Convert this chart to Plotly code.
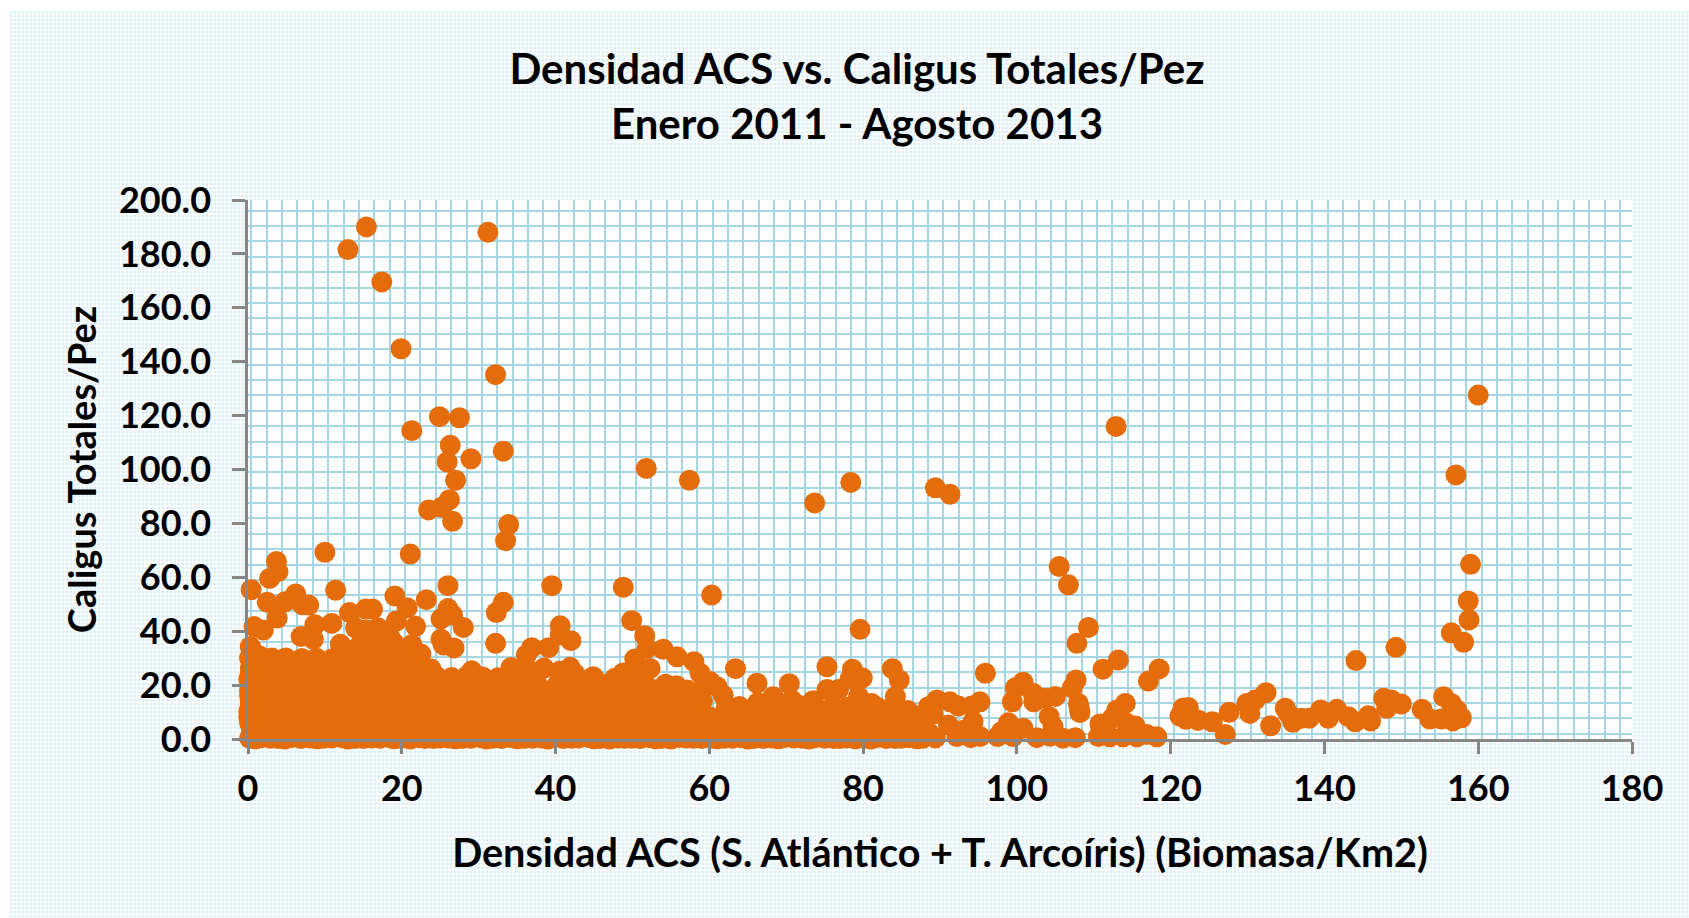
import plotly.graph_objects as go

TITLE = "<b>Densidad ACS vs. Caligus Totales/Pez<br>Enero 2011 - Agosto 2013</b>"
X_TITLE = "<b>Densidad ACS (S. Atlántico + T. Arcoíris) (Biomasa/Km2)</b>"
Y_TITLE = "<b>Caligus Totales/Pez</b>"
X_TICKS = [0, 20, 40, 60, 80, 100, 120, 140, 160, 180]
Y_TICKS = [0, 20, 40, 60, 80, 100, 120, 140, 160, 180, 200]
Y_TICK_TEXT = ["0.0", "20.0", "40.0", "60.0", "80.0", "100.0", "120.0", "140.0", "160.0", "180.0", "200.0"]

# Points that can be made out individually
high_x = [13.0, 15.4, 17.4, 19.9, 31.2, 32.2, 21.3, 24.9, 27.5, 33.2, 26.3, 25.9, 29.0, 27.0, 26.2, 23.5, 25.2, 33.9, 26.6, 33.5,
          160.0, 157.1, 159.0, 158.7, 112.9, 89.4, 91.3, 78.4, 73.7, 57.4, 51.8, 105.5, 106.7]
high_y = [181.6, 190.0, 169.6, 144.8, 188.0, 135.2, 114.4, 119.6, 119.2, 106.8, 109.0, 102.8, 104.0, 96.0, 88.8, 85.0, 86.0, 79.6, 80.8, 73.6,
          127.6, 98.0, 64.8, 51.2, 116.0, 93.2, 90.8, 95.2, 87.6, 96.0, 100.4, 64.0, 57.2]

left_x = [10.0, 21.1, 3.7, 3.9, 2.8, 0.4, 11.4, 26.0, 39.5, 19.1, 23.2, 20.7, 6.2, 4.8, 7.9, 7.1, 2.5, 13.2, 15.3, 16.2, 33.2, 32.3,
          3.8, 2.0, 0.8, 10.9, 8.7, 19.3, 21.8, 26.0, 26.6, 25.1, 28.0, 25.1, 25.4, 26.8, 32.2, 6.9, 21.3, 14.0, 16.9, 15.4, 18.4,
          12.0, 14.6, 36.9, 36.2, 39.1, 34.2, 23.8, 29.1, 8.5]
left_y = [69.3, 68.6, 65.9, 62.1, 59.6, 55.4, 55.2, 56.9, 56.9, 53.1, 51.7, 48.7, 53.8, 50.9, 49.7, 49.8, 50.7, 46.9, 48.2, 48.2, 50.7, 46.9,
          44.9, 40.4, 41.7, 42.9, 42.4, 43.8, 41.8, 48.4, 46.0, 44.6, 41.4, 37.0, 34.9, 33.8, 35.5, 38.0, 35.0, 41.2, 41.3, 40.4, 38.0,
          35.2, 34.9, 33.9, 31.2, 33.9, 26.5, 26.0, 25.3, 37.0]

mid_x = [48.8, 60.3, 40.6, 40.6, 42.0, 49.9, 51.6, 51.9, 54.0, 55.8, 58.0, 50.3, 52.3, 50.3, 48.8, 47.7, 41.9, 44.9, 43.4,
         63.4, 66.2, 70.4, 68.3, 66.3, 64.2, 75.3, 78.6, 79.9, 78.3, 79.6, 75.3, 76.8, 73.5, 70.7, 79.4, 81.1, 60.1, 61.8, 61.0, 58.8]
mid_y = [56.3, 53.4, 42.0, 38.6, 36.5, 43.9, 38.3, 33.6, 33.3, 30.5, 28.7, 29.7, 26.2, 24.4, 24.5, 22.5, 26.6, 23.1, 20.7,
         26.1, 20.7, 20.5, 15.7, 13.5, 10.8, 26.8, 25.9, 22.7, 22.3, 40.7, 18.4, 18.4, 14.2, 14.5, 15.7, 13.2, 21.3, 16.3, 19.4, 24.4]

right_x = [109.3, 107.8, 113.2, 111.2, 118.5, 117.1, 95.9, 83.8, 84.7, 84.2, 100.8, 99.8, 99.4, 102.1, 102.2, 103.6, 105.0, 107.7, 107.2,
           108.0, 108.2, 108.1, 104.2, 104.7, 98.9, 100.8, 98.0, 97.5, 102.6, 107.6, 106.0, 104.3, 99.5, 95.2, 94.1, 94.3, 91.1, 92.2,
           95.2, 94.0, 93.2, 89.6, 91.3, 92.4, 88.5, 114.1, 113.0, 110.8, 112.4, 115.4, 114.3, 110.6, 112.1, 113.8, 115.6, 118.2, 116.9,
           121.6, 122.3, 122.0, 123.6]
right_y = [41.4, 35.5, 29.3, 25.9, 26.0, 21.5, 24.4, 26.1, 21.9, 15.7, 21.1, 19.0, 13.8, 17.0, 13.8, 15.1, 15.8, 21.9, 19.0,
           13.2, 9.8, 11.6, 8.3, 4.6, 6.0, 4.0, 2.7, 0.9, 0.5, 0.5, 0.3, 1.0, 0.9, 13.8, 12.2, 6.4, 5.2, 0.9,
           0.9, 0.5, 3.3, 14.5, 13.8, 12.2, 12.0, 13.2, 10.8, 5.6, 7.7, 4.8, 5.8, 0.9, 0.8, 0.8, 0.8, 0.8, 1.7,
           11.4, 11.7, 7.3, 7.0]

far_x = [144.1, 149.3, 156.5, 158.1, 158.8, 132.4, 131.0, 129.9, 130.3, 127.6, 127.1, 133.0, 125.4, 123.5, 122.2, 121.2, 134.9, 135.3, 135.9,
         138.0, 137.0, 139.5, 141.6, 140.5, 143.1, 144.0, 145.7, 146.0, 147.7, 148.7, 148.1, 150.0, 152.7, 153.7, 155.5, 156.5, 157.2, 155.2, 156.7, 157.8]
far_y = [29.1, 34.0, 39.4, 35.9, 44.2, 17.2, 14.5, 13.2, 9.5, 9.9, 1.7, 4.9, 6.4, 7.0, 11.4, 8.5, 11.4, 9.5, 6.2,
         7.7, 7.7, 10.8, 11.0, 7.7, 8.3, 6.4, 8.6, 6.7, 15.1, 14.5, 11.4, 13.0, 11.0, 7.4, 15.7, 13.2, 10.8, 7.4, 6.7, 7.9]

# The solid mass near the axis: individual points cannot be told apart there,
# so these are hand estimates that reproduce its outline and fill
mass_a_x = [0.2, 1.8, 3.9, 5.7, 8.1, 9.8, 12.2, 13.9, 16.1, 18.3, 19.9, 22.2, 24.1,
            0.4, 2.3, 3.8, 6.2, 7.7, 10.3, 11.9, 14.2, 15.8, 18.1, 20.4, 21.8, 24.3,
            0.1, 1.6, 4.2, 5.9, 8.3, 9.6, 12.4, 13.7, 16.3, 17.8, 20.2, 22.1, 23.9,
            0.3, 2.1, 3.7, 6.1, 7.9, 10.1, 12.1, 14.1, 16.0, 18.2, 19.8, 22.3, 24.2,
            0.2, 1.9, 4.1, 5.8, 8.2, 9.9, 11.8, 14.3, 15.7, 18.0, 20.1, 21.9, 24.0,
            0.5, 2.2, 3.9, 6.3, 7.8, 10.2, 12.3, 13.8, 16.2, 17.9, 20.3, 22.0, 24.4,
            0.3, 1.7, 4.0, 6.0, 8.0, 9.7, 12.0, 14.0, 15.9, 18.4, 19.7, 22.4,
            0.6, 2.4, 4.3, 5.6, 8.4, 10.0, 11.7, 14.4, 16.4, 17.7, 20.0, 21.7,
            0.5, 1.5, 3.1, 14.7, 16.6, 18.6, 20.3, 22.5, 19.0, 15.6, 17.3, 12.8]
mass_a_y = [0.3, 0.5, 0.2, 0.6, 0.4, 0.3, 0.5, 0.2, 0.4, 0.6, 0.3, 0.5, 0.2,
            4.2, 3.8, 4.5, 3.6, 4.1, 4.4, 3.7, 4.3, 3.9, 4.6, 3.5, 4.0, 4.2,
            8.1, 8.4, 7.7, 8.5, 7.9, 8.2, 8.6, 7.6, 8.0, 8.3, 7.8, 8.4, 8.1,
            12.3, 11.8, 12.5, 11.9, 12.2, 12.6, 11.7, 12.1, 12.4, 11.6, 12.0, 12.3, 11.9,
            16.2, 15.8, 16.4, 16.0, 15.7, 16.3, 15.9, 16.5, 16.1, 15.6, 16.2, 15.8, 16.0,
            20.1, 20.4, 19.8, 20.2, 19.7, 20.3, 20.0, 19.9, 20.5, 19.6, 20.2, 20.4, 19.9,
            24.2, 23.8, 24.4, 24.0, 23.7, 24.3, 23.9, 24.5, 24.1, 23.6, 24.2, 23.8,
            28.1, 27.8, 28.3, 27.9, 28.2, 27.7, 28.0, 28.4, 27.6, 28.1, 27.9, 28.2,
            32.2, 30.8, 30.1, 32.4, 33.2, 32.0, 32.6, 31.5, 35.6, 35.1, 36.2, 31.4]

mass_b_x = [26.1, 27.9, 30.2, 31.8, 34.1, 35.9, 38.2, 39.7, 42.1, 44.2, 45.8, 48.1, 49.9, 52.2, 53.8, 56.1, 57.9, 60.2,
            25.9, 28.2, 29.8, 32.1, 33.9, 36.2, 37.8, 40.1, 41.9, 43.8, 46.2, 47.9, 50.2, 51.8, 54.1, 55.9, 58.2, 59.8,
            26.2, 27.8, 30.1, 31.9, 34.2, 35.8, 38.1, 39.9, 42.2, 44.1, 45.9, 48.2, 49.8, 52.1, 53.9, 56.2, 57.8, 60.1,
            25.8, 28.1, 29.9, 32.2, 33.8, 36.1, 37.9, 40.2, 41.8, 43.9, 46.1, 47.8, 50.1, 51.9, 54.2, 55.8, 58.1,
            26.3, 27.7, 30.3, 31.7, 34.3, 35.7, 38.3, 39.6, 42.3, 44.3, 45.7, 48.3, 49.7, 52.3, 53.7, 56.3, 57.7,
            26.0, 28.3, 29.7, 32.3, 33.7, 36.3, 37.7, 40.3, 41.7, 43.7, 46.3, 47.7, 50.3, 51.7, 54.3, 55.7]
mass_b_y = [0.4, 0.2, 0.5, 0.3, 0.6, 0.2, 0.4, 0.5, 0.3, 0.6, 0.2, 0.4, 0.3, 0.5, 0.2, 0.6, 0.3, 0.4,
            4.1, 3.8, 4.4, 3.7, 4.2, 4.5, 3.9, 4.0, 4.3, 3.6, 4.1, 4.4, 3.8, 4.2, 4.0, 3.7, 4.3, 3.9,
            8.2, 7.9, 8.4, 7.8, 8.1, 8.3, 7.7, 8.0, 8.5, 8.2, 7.9, 8.1, 8.4, 7.8, 8.3, 8.0, 7.7, 8.2,
            12.1, 12.4, 11.8, 12.2, 12.5, 11.9, 12.0, 12.3, 11.7, 12.1, 12.4, 11.9, 12.2, 12.0, 11.8, 12.3, 12.1,
            16.3, 15.9, 16.1, 16.4, 15.8, 16.2, 16.0, 15.7, 16.3, 16.1, 15.9, 16.4, 15.8, 16.2, 16.0, 15.7, 16.1,
            20.2, 19.8, 20.1, 20.4, 19.7, 20.3, 19.9, 20.5, 20.0, 19.8, 20.2, 20.4, 19.9, 20.1, 20.3, 19.8]

mass_c_x = [61.9, 64.1, 65.8, 68.2, 69.9, 72.1, 73.8, 76.2, 77.9, 80.1, 81.8, 84.2, 85.9, 87.8, 89.4,
            62.1, 63.8, 66.2, 67.9, 70.1, 71.8, 74.2, 75.9, 78.1, 79.9, 82.2, 83.8, 86.1, 87.9,
            61.8, 64.2, 66.0, 68.1, 69.8, 72.2, 74.0, 76.1, 77.8, 80.2, 82.0, 84.1, 86.0, 87.6, 89.1,
            62.2, 63.9, 65.9, 68.0, 70.2, 71.9, 73.9, 76.0, 78.0, 80.0, 81.9, 83.9, 85.8]
mass_c_y = [0.3, 0.5, 0.2, 0.4, 0.6, 0.3, 0.5, 0.2, 0.4, 0.3, 0.6, 0.2, 0.5, 0.3, 0.4,
            4.1, 3.8, 4.3, 3.9, 4.2, 4.0, 3.7, 4.4, 3.9, 4.1, 4.3, 3.8, 4.0, 3.6,
            8.2, 7.9, 8.3, 8.0, 7.8, 8.4, 8.1, 7.7, 8.2, 8.0, 8.3, 7.9, 8.1, 8.6, 9.2,
            11.8, 12.1, 11.6, 12.2, 11.9, 12.3, 11.7, 12.0, 11.8, 12.2, 11.7, 12.0, 10.6]

mass_d_x = [1.1, 2.9, 5.0, 7.1, 8.9, 11.0, 13.1, 14.9, 17.0, 19.1, 21.0, 23.1, 25.0,
            0.9, 3.1, 4.9, 6.9, 9.1, 11.1, 12.9, 15.1, 16.9, 18.9, 21.1, 22.9, 25.1,
            1.0, 3.0, 5.1, 7.0, 9.0, 10.9, 13.0, 15.0, 17.1, 19.0, 20.9, 23.0, 24.9,
            1.2, 2.8, 5.2, 6.8, 9.2, 11.2, 12.8, 15.2, 16.8, 19.2, 21.2, 22.8, 25.2,
            0.8, 3.2, 4.8, 7.2, 8.8, 10.8, 13.2, 14.8, 17.2, 18.8, 20.8, 23.2, 24.8,
            1.1, 3.1, 5.0, 6.9, 9.1, 11.0, 12.9, 15.0, 17.0, 19.1, 21.0, 23.0,
            1.0, 2.9, 5.1, 7.1, 9.0, 11.1, 13.1, 14.9, 16.9, 18.9, 21.1, 22.9,
            0.9, 3.0, 4.9, 7.0, 8.9, 10.9, 13.0, 15.1, 17.1, 19.0, 21.0,
            0.3, 16.0, 18.0, 20.0, 14.0,
            0.2, 0.1, 0.3, 0.2, 0.1, 0.3, 0.2, 0.4]
mass_d_y = [2.1, 1.8, 2.3, 2.0, 1.7, 2.2, 1.9, 2.4, 2.0, 1.8, 2.1, 2.3, 1.9,
            6.2, 5.8, 6.1, 5.9, 6.3, 6.0, 5.7, 6.2, 6.4, 5.8, 6.1, 5.9, 6.0,
            10.1, 9.8, 10.3, 9.9, 10.2, 9.7, 10.0, 10.4, 9.8, 10.1, 10.2, 9.9, 10.0,
            14.2, 13.9, 14.1, 13.8, 14.3, 14.0, 13.7, 14.2, 14.4, 13.9, 14.1, 13.8, 14.0,
            18.1, 17.8, 18.3, 18.0, 17.7, 18.2, 18.4, 17.9, 18.1, 17.8, 18.2, 18.0, 17.9,
            22.2, 21.8, 22.1, 22.4, 21.9, 22.0, 22.3, 21.7, 22.1, 22.2, 21.9, 22.0,
            26.1, 25.9, 26.3, 25.8, 26.2, 26.0, 25.7, 26.4, 26.1, 25.9, 26.2, 26.0,
            30.2, 29.8, 30.1, 29.9, 30.0, 29.7, 30.3, 30.1, 29.9, 30.2, 30.0,
            34.3, 33.8, 34.1, 33.7, 33.4,
            6.1, 10.2, 14.3, 18.1, 22.2, 26.3, 30.1, 33.5]

mass_e_x = [27.0, 29.1, 30.9, 33.1, 35.0, 36.9, 39.1, 41.0, 43.1, 44.9, 47.0, 49.1, 51.0, 52.9, 55.1, 57.0, 59.1,
            26.9, 29.0, 31.1, 32.9, 35.1, 37.0, 38.9, 41.1, 43.0, 45.1, 46.9, 49.0, 51.1, 53.0, 54.9, 57.1, 58.9,
            27.1, 28.9, 31.0, 33.0, 34.9, 37.1, 39.0, 40.9, 42.9, 45.0, 47.1, 48.9, 50.9, 53.1, 55.0, 56.9, 59.0,
            27.0, 29.1, 30.9, 33.1, 35.0, 36.9, 39.1, 41.0, 43.1, 44.9, 47.0, 49.1, 51.0, 52.9, 55.1, 57.0, 59.1,
            26.9, 29.0, 31.1, 32.9, 35.1, 37.0, 38.9, 41.1, 43.0, 45.1, 46.9, 49.0, 51.1, 53.0, 54.9, 57.1, 58.9,
            24.5, 26.5, 28.5, 30.5, 32.5, 34.5, 36.5, 38.5, 40.5, 42.5]
mass_e_y = [2.2, 1.9, 2.1, 1.8, 2.3, 2.0, 1.7, 2.2, 2.4, 1.9, 2.1, 1.8, 2.0, 2.3, 1.9, 2.2, 2.0,
            6.1, 5.9, 6.3, 5.8, 6.2, 6.0, 5.7, 6.1, 6.4, 5.9, 6.2, 5.8, 6.0, 6.3, 5.9, 6.1, 6.0,
            10.2, 9.8, 10.1, 9.9, 10.3, 10.0, 9.7, 10.2, 10.4, 9.9, 10.1, 9.8, 10.0, 10.3, 9.9, 10.2, 10.0,
            14.1, 13.9, 14.3, 13.8, 14.2, 14.0, 13.7, 14.1, 14.4, 13.9, 14.2, 13.8, 14.0, 14.3, 13.9, 14.1, 14.0,
            18.2, 17.8, 18.1, 17.9, 18.3, 18.0, 17.7, 18.2, 18.4, 17.9, 18.1, 17.8, 18.0, 18.3, 17.9, 18.2, 18.0,
            23.2, 22.8, 23.4, 23.0, 22.7, 23.1, 25.6, 26.3, 25.1, 24.2]

mass_f_x = [63.0, 65.1, 66.9, 69.0, 71.1, 72.9, 75.0, 77.1, 78.9, 81.0, 83.1, 84.9, 87.0, 88.6,
            62.9, 65.0, 67.1, 68.9, 71.0, 73.1, 74.9, 77.0, 79.1, 80.9, 83.0, 85.1, 86.9,
            63.1, 64.9, 67.0, 69.1, 70.9, 73.0, 75.1, 76.9, 79.0, 81.1, 82.9, 85.0, 86.8]
mass_f_y = [2.1, 1.8, 2.3, 2.0, 1.7, 2.2, 1.9, 2.4, 2.0, 1.8, 2.1, 2.3, 1.9, 2.2,
            6.2, 5.8, 6.1, 5.9, 6.3, 6.0, 5.7, 6.2, 6.4, 5.8, 6.1, 5.9, 6.0,
            10.1, 9.8, 10.3, 9.9, 10.2, 9.7, 10.0, 10.4, 9.8, 10.1, 10.2, 9.9, 8.6]

mass_g_x = [1.0, 2.9, 4.8, 6.9, 9.0, 10.9, 13.0, 15.0, 17.2, 19.0, 21.1, 23.0, 25.0, 27.0, 29.0, 31.0, 33.0, 35.0, 37.0, 39.0,
            41.0, 43.0, 45.0, 47.0, 49.0, 51.0, 53.0, 55.0, 57.0, 59.0, 61.0, 63.0, 65.0, 67.0, 69.0, 71.0, 73.0, 75.0, 77.0, 79.0,
            81.0, 83.0, 85.0, 87.0]
mass_g_y = [0.1, 0.3, 0.0, 0.2, 0.1, 0.4, 0.0, 0.2, 0.3, 0.1, 0.0, 0.2, 0.4, 0.1, 0.3, 0.0, 0.2, 0.1, 0.3, 0.0,
            0.2, 0.4, 0.1, 0.0, 0.3, 0.2, 0.1, 0.0, 0.4, 0.2, 0.1, 0.3, 0.0, 0.2, 0.1, 0.4, 0.0, 0.3, 0.2, 0.1,
            0.0, 0.2, 0.3, 0.1]

x_groups = [high_x, left_x, mid_x, right_x, far_x, mass_a_x, mass_b_x, mass_c_x, mass_d_x, mass_e_x, mass_f_x, mass_g_x]
y_groups = [high_y, left_y, mid_y, right_y, far_y, mass_a_y, mass_b_y, mass_c_y, mass_d_y, mass_e_y, mass_f_y, mass_g_y]

ORANGE = "#E46C0A"
GRID = "#a6d6e3"
AXIS = "#868686"
FONT = "Lato"

fig = go.Figure()

# Dotted panel behind everything
fig.add_trace(go.Bar(x=[0.5], y=[1], width=[1], xaxis="x", yaxis="y", hoverinfo="skip", showlegend=False,
                     marker=dict(color="white", line_width=0,
                                 pattern=dict(shape=".", size=4, solidity=0.5, fgcolor="#b5deea", bgcolor="white"))))
# White plot area
fig.add_trace(go.Bar(x=[0.5], y=[1], width=[1], xaxis="x2", yaxis="y2", hoverinfo="skip", showlegend=False,
                     marker=dict(color="white", line_width=0)))
# Data: one trace per group of estimated points
for gx, gy in zip(x_groups, y_groups):
    fig.add_trace(go.Scatter(x=gx, y=gy, mode="markers", xaxis="x3", yaxis="y3", showlegend=False, cliponaxis=False,
                             marker=dict(color=ORANGE, size=21, line_width=0)))

X_DOM = [248 / 1689, 1632 / 1689]
Y_DOM = [(918 - 739) / 918, (918 - 200) / 918]
hidden = dict(visible=False, fixedrange=True, automargin=False)

fig.update_layout(
    width=1689, height=918, autosize=False,
    margin=dict(l=0, r=0, t=0, b=0, pad=0, autoexpand=False),
    paper_bgcolor="white", plot_bgcolor="rgba(0,0,0,0)",
    font=dict(family=FONT, color="black"),
    bargap=0,
    title=dict(text=TITLE, x=857 / 1689, xanchor="center", y=1 - 84 / 918, yanchor="middle",
               font=dict(family=FONT, size=42, color="black")),
    xaxis=dict(domain=[9 / 1689, 1], range=[0, 1], **hidden),
    yaxis=dict(domain=[0, 908 / 918], range=[0, 1], **hidden),
    xaxis2=dict(domain=X_DOM, range=[0, 1], anchor="y2", **hidden),
    yaxis2=dict(domain=Y_DOM, range=[0, 1], anchor="x2", **hidden),
    xaxis3=dict(domain=X_DOM, range=[0, 180], anchor="y3", tickmode="array", tickvals=X_TICKS, automargin=False,
                ticks="outside", ticklen=12, tickwidth=2.5, tickcolor=AXIS, ticklabelstandoff=4,
                showline=True, linecolor=AXIS, linewidth=2.5, showgrid=False, zeroline=False,
                tickfont=dict(family=FONT, size=36, color="black", weight=700),
                title=dict(text=X_TITLE, font=dict(family=FONT, size=39.6, color="black"), standoff=32),
                minor=dict(tick0=0.43, dtick=2.0, showgrid=True, gridcolor=GRID, gridwidth=1.7, ticks="")),
    yaxis3=dict(domain=Y_DOM, range=[0, 200], anchor="x3", tickmode="array", tickvals=Y_TICKS, ticktext=Y_TICK_TEXT,
                automargin=False, ticks="outside", ticklen=13, tickwidth=2.5, tickcolor=AXIS, ticklabelstandoff=14,
                showline=True, linecolor=AXIS, linewidth=2.5, showgrid=False, zeroline=False,
                tickfont=dict(family=FONT, size=36, color="black", weight=700),
                title=dict(text=Y_TITLE, font=dict(family=FONT, size=38, color="black"), standoff=11),
                minor=dict(tick0=1.9, dtick=5.71, showgrid=True, gridcolor=GRID, gridwidth=1.7, ticks="")),
)

fig.write_html("out.html", config=dict(displayModeBar=False), post_script="document.body.style.margin='0';")
